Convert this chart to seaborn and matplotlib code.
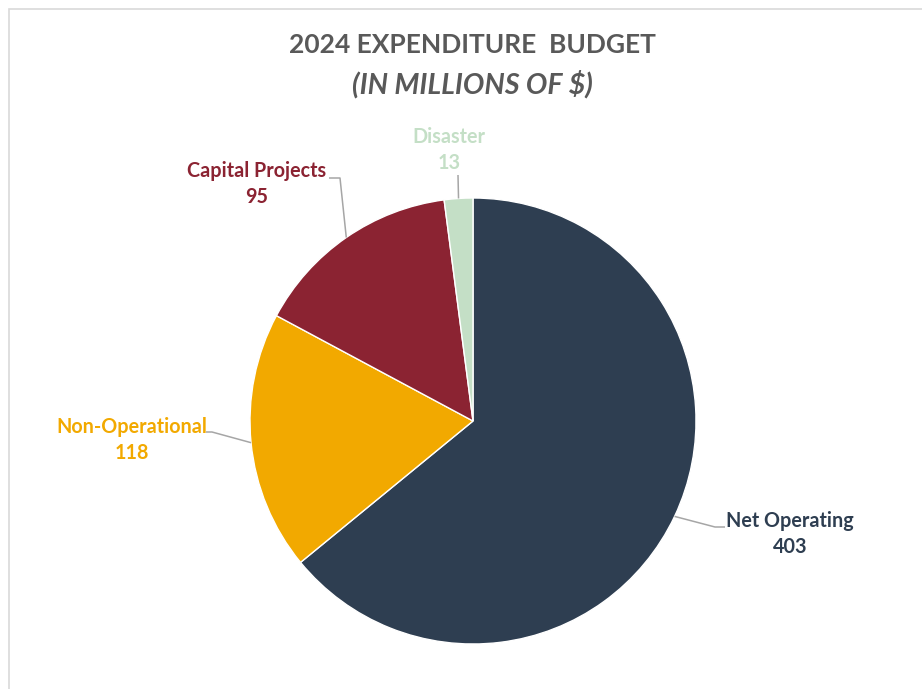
import matplotlib.pyplot as plt
import seaborn as sns
import numpy as np
from matplotlib.patches import Rectangle

# Budget data (millions of $)
categories = ["Net Operating", "Non-Operational", "Capital Projects", "Disaster"]
values = [403, 118, 95, 13]
colors = ["#2E3E51", "#F2A900", "#8B2332", "#C4DFC6"]

sns.set_theme(style="white")
plt.rcParams['font.family'] = ['Lato', 'DejaVu Sans']

W, H = 922, 689
fig = plt.figure(figsize=(W / 100, H / 100), dpi=100)
# pixel helpers: pie center (473, 421), radius 223 px
CX, CY, R = 473, 421, 223
ax = fig.add_axes([0, 0, 1, 1])

wedges, _ = ax.pie(values, colors=colors, startangle=90, counterclock=False,
                   radius=1, wedgeprops=dict(edgecolor="white", linewidth=1))
ax.set_xlim(-CX / R, (W - CX) / R)
ax.set_ylim((CY - H) / R, CY / R)
ax.set_aspect("auto")
ax.axis("off")


def px(x, y):
    return (x - CX) / R, (CY - y) / R


def edge_point(w):
    mid = np.deg2rad((w.theta1 + w.theta2) / 2)
    return np.cos(mid), np.sin(mid)


# label layout: (text center px, elbow points px)
layout = {
    "Net Operating": ((790, 521), [(715, 527), (725, 527)]),
    "Non-Operational": ((132, 427), [(212, 432), (206, 432)]),
    "Capital Projects": ((257, 171), [(340, 178), (329, 178)]),
    "Disaster": ((449, 137), [(458, 175)]),
}

for w, cat, val, col in zip(wedges, categories, values, colors):
    (tx, ty), pts = layout[cat]
    ex, ey = edge_point(w)
    xs = [ex] + [px(*p)[0] for p in pts]
    ys = [ey] + [px(*p)[1] for p in pts]
    ax.plot(xs, ys, color="#A6A6A6", lw=1.1, solid_capstyle="butt")
    x0, y0 = px(tx, ty)
    ax.text(x0, y0, cat, color=col, fontsize=14.2, fontweight="bold",
            ha="center", va="center")
    x1, y1 = px(tx, ty + 26)
    ax.text(x1, y1, str(val), color=col, fontsize=14.2, fontweight="bold",
            ha="center", va="center")

# title
fig.text(472 / W, 1 - 45 / H, "2024 EXPENDITURE  BUDGET", color="#595959",
         fontsize=19, fontweight="bold", ha="center", va="center")
fig.text(472 / W, 1 - 84 / H, "(IN MILLIONS OF $)", color="#595959",
         fontsize=20.5, fontweight="bold", fontstyle="italic",
         ha="center", va="center", parse_math=False)

# chart area border
fig.patches.append(Rectangle((9 / W, -0.01), 1.02, 1 - 9 / H + 0.01,
                             transform=fig.transFigure, fill=False,
                             edgecolor="#D9D9D9", lw=1.2))

fig.savefig("out.png", dpi=100)
plt.close()
